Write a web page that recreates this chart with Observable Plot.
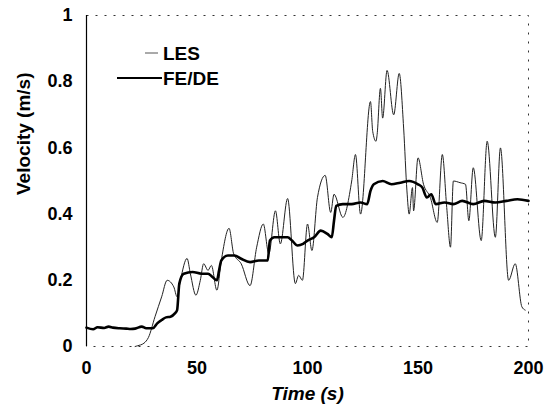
<!DOCTYPE html>
<html>
<head>
<meta charset="utf-8">
<script src="https://cdn.jsdelivr.net/npm/d3@7"></script>
<script src="https://cdn.jsdelivr.net/npm/@observablehq/plot@0.6"></script>
<style>
  html, body { margin: 0; padding: 0; background: #fff; }
  #wrap { position: relative; width: 546px; height: 410px; font-family: "Liberation Sans", Arial, sans-serif; }
  #legend { position: absolute; left: 0; top: 0; pointer-events: none; }
</style>
</head>
<body>
<div id="wrap"></div>
<script>
// ---- data ----
const seriesNames = ["LES", "FE/DE"];
const lesTime = [22, 23, 26, 28, 31, 34, 36.5, 39.5, 41, 42.5, 45.5, 47, 49.5, 51.5, 53, 55, 56.5, 59, 61, 64.5, 66.6, 70, 74, 77, 80, 82.5, 85.5, 87.7, 91, 94.5, 96, 97.7, 100, 102, 104.5, 108, 110.5, 112, 116, 120, 121.7, 124, 128.5, 129.5, 131, 131.5, 133, 134, 136, 139, 141.5, 143.5, 145, 146, 147.5, 148, 150, 152.5, 155.6, 158.7, 161, 163, 164.7, 166, 169, 171.5, 173, 175, 178.6, 181.3, 185, 187.3, 191, 194, 197, 198.5];
const lesVel  = [0, 0.002, 0.01, 0.027, 0.09, 0.15, 0.2, 0.18, 0.15, 0.2, 0.266, 0.22, 0.155, 0.2, 0.25, 0.23, 0.245, 0.17, 0.26, 0.357, 0.28, 0.25, 0.184, 0.3, 0.37, 0.28, 0.41, 0.31, 0.447, 0.19, 0.215, 0.2, 0.37, 0.29, 0.45, 0.517, 0.405, 0.46, 0.39, 0.5, 0.58, 0.4, 0.74, 0.65, 0.62, 0.64, 0.78, 0.69, 0.834, 0.70, 0.825, 0.66, 0.47, 0.40, 0.48, 0.41, 0.57, 0.49, 0.45, 0.375, 0.58, 0.42, 0.3, 0.5, 0.495, 0.49, 0.38, 0.54, 0.32, 0.62, 0.33, 0.6, 0.2, 0.25, 0.12, 0.11];
const fedeTime = [0, 3, 5, 8, 10, 12, 15, 18, 20, 22, 25, 27, 30, 32, 34, 36, 38, 40, 41, 42, 44, 48, 52, 55, 57, 59, 60, 61, 64, 67, 70, 74, 78, 82, 83, 85, 88, 91, 93, 95.5, 98, 100, 103, 106, 109, 111, 112, 113, 116, 120, 124, 127, 128.5, 130, 134, 138, 142, 146, 150, 152, 154, 156, 158, 162, 166, 170, 175, 180, 185, 190, 195, 200];
const fedeVel  = [0.057, 0.052, 0.058, 0.056, 0.06, 0.057, 0.055, 0.054, 0.053, 0.054, 0.06, 0.055, 0.055, 0.07, 0.08, 0.088, 0.09, 0.1, 0.11, 0.19, 0.22, 0.225, 0.22, 0.22, 0.21, 0.2, 0.23, 0.26, 0.275, 0.275, 0.265, 0.255, 0.26, 0.26, 0.32, 0.33, 0.33, 0.33, 0.32, 0.305, 0.31, 0.32, 0.33, 0.35, 0.34, 0.33, 0.38, 0.425, 0.43, 0.43, 0.435, 0.43, 0.47, 0.49, 0.5, 0.49, 0.495, 0.5, 0.49, 0.48, 0.45, 0.46, 0.43, 0.435, 0.43, 0.44, 0.43, 0.44, 0.435, 0.44, 0.445, 0.44];
const xTicks = [0, 50, 100, 150, 200];
const yTicks = [0, 0.2, 0.4, 0.6, 0.8, 1];
const xLabel = "Time (s)";
const yLabel = "Velocity (m/s)";

const les = lesTime.map((t, i) => ({t, v: lesVel[i]}));
const fede = fedeTime.map((t, i) => ({t, v: fedeVel[i]}));

const W = 546, H = 410;
const mL = 86, mR = 18, mT = 15, mB = 64;
const yFmt = d => d === 0 ? "0" : d === 1 ? "1" : d.toFixed(1);

const chart = Plot.plot({
  width: W, height: H,
  marginLeft: mL, marginRight: mR, marginTop: mT, marginBottom: mB,
  style: {fontFamily: '"Liberation Sans", Arial, sans-serif', fontSize: "18px", fontWeight: "bold", color: "#000", background: "#fff"},
  x: {domain: [0, 200], ticks: xTicks, tickFormat: d => String(d), label: null},
  y: {domain: [0, 1], ticks: yTicks, tickFormat: yFmt, label: null},
  marks: [
    Plot.axisX({ticks: xTicks, tickSize: 0, tickPadding: 15, tickFormat: d => String(d), label: null, fontSize: 18}),
    Plot.axisY({ticks: yTicks, tickSize: 0, tickPadding: 14, tickFormat: yFmt, label: null, fontSize: 18}),
    Plot.frame({stroke: "#333", strokeWidth: 1, strokeDasharray: "2,7"}),
    Plot.ruleX([0], {stroke: "#000", strokeWidth: 1.2}),
    Plot.line(les, {x: "t", y: "v", stroke: "#222", strokeWidth: 1, curve: "monotone-x"}),
    Plot.line(fede, {x: "t", y: "v", stroke: "#000", strokeWidth: 2.6, curve: "monotone-x"}),
    Plot.text([xLabel], {frameAnchor: "bottom", dy: 53, fontSize: 19, fontWeight: "bold", fontStyle: "italic", fill: "#000"}),
    Plot.text([yLabel], {frameAnchor: "left", dx: -63, dy: 14, rotate: -90, fontSize: 19, fontWeight: "bold", fill: "#000"})
  ]
});

const wrap = document.getElementById("wrap");
wrap.appendChild(chart);

// legend overlay
const ns = "http://www.w3.org/2000/svg";
const leg = document.createElementNS(ns, "svg");
leg.setAttribute("id", "legend");
leg.setAttribute("width", W);
leg.setAttribute("height", H);
const legendItems = [
  {name: seriesNames[0], x1: 145, x2: 158, y: 53, ty: 55, stroke: "#555", sw: 1},
  {name: seriesNames[1], x1: 117, x2: 162, y: 78, ty: 80, stroke: "#000", sw: 2.2}
];
legendItems.forEach(it => {
  const l = document.createElementNS(ns, "line");
  l.setAttribute("x1", it.x1); l.setAttribute("x2", it.x2);
  l.setAttribute("y1", it.y); l.setAttribute("y2", it.y);
  l.setAttribute("stroke", it.stroke); l.setAttribute("stroke-width", it.sw);
  leg.appendChild(l);
  const tx = document.createElementNS(ns, "text");
  tx.setAttribute("x", 163); tx.setAttribute("y", it.ty);
  tx.setAttribute("dominant-baseline", "middle");
  tx.setAttribute("font-family", '"Liberation Sans", Arial, sans-serif');
  tx.setAttribute("font-size", "19"); tx.setAttribute("font-weight", "bold");
  tx.textContent = it.name;
  leg.appendChild(tx);
});
wrap.appendChild(leg);
</script>
</body>
</html>
